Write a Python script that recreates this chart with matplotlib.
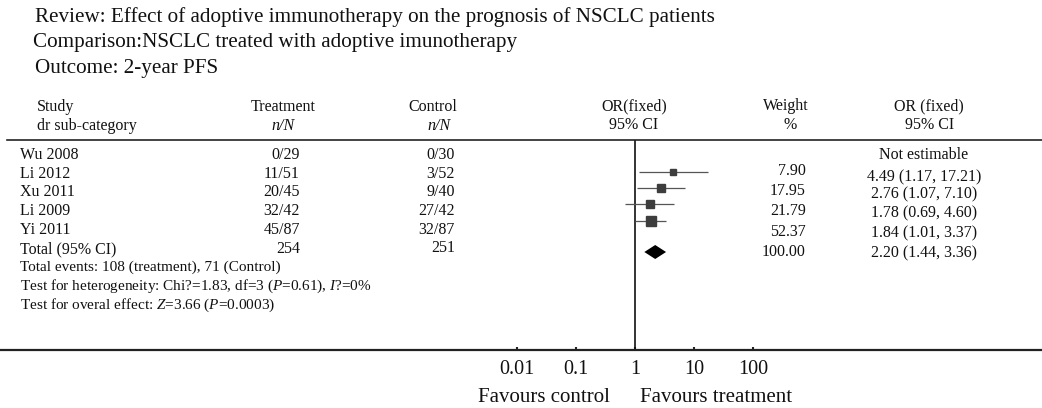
import numpy as np
import matplotlib
matplotlib.use("Agg")
import matplotlib.pyplot as plt
from matplotlib.lines import Line2D
from matplotlib.ticker import NullLocator, FixedLocator, FixedFormatter

# ---------------- data ----------------
title_lines = ["Review: Effect of adoptive immunotherapy on the prognosis of NSCLC patients",
               "Comparison:NSCLC treated with adoptive imunotherapy",
               "Outcome: 2-year PFS"]
studies = ["Wu 2008", "Li 2012", "Xu 2011", "Li 2009", "Yi 2011"]
treat_n = [0, 11, 20, 32, 45]
treat_N = [29, 51, 45, 42, 87]
ctrl_n = [0, 3, 9, 27, 32]
ctrl_N = [30, 52, 40, 42, 87]
weights = [None, 7.90, 17.95, 21.79, 52.37]
or_est = [None, 4.49, 2.76, 1.78, 1.84]
or_lo = [None, 1.17, 1.07, 0.69, 1.01]
or_hi = [None, 17.21, 7.10, 4.60, 3.37]
total_label = "Total (95% CI)"
total_treat_N = 254
total_ctrl_N = 251
total_weight = 100.00
total_est, total_lo, total_hi = 2.20, 1.44, 3.36
footer_lines = ["Total events: 108 (treatment), 71 (Control)",
                r"Test for heterogeneity: Chi?=1.83, df=3 ($P$=0.61), $I$?=0%",
                r"Test for overal effect: $Z$=3.66 ($P$=0.0003)"]
tick_values = [0.01, 0.1, 1, 10, 100]
tick_labels = ["0.01", "0.1", "1", "10", "100"]
favours_left = "Favours control"
favours_right = "Favours treatment"

# ---------------- style ----------------
plt.rcParams['font.family'] = ['Liberation Serif', 'DejaVu Serif']
plt.rcParams['mathtext.fontset'] = 'custom'
plt.rcParams['mathtext.rm'] = 'Liberation Serif'
plt.rcParams['mathtext.it'] = 'Liberation Serif:italic'

W, H = 1042, 408
fig = plt.figure(figsize=(W / 100, H / 100), dpi=100)
fig.patch.set_facecolor('white')
TXT = '#111111'


def ftxt(x, y, s, **kw):
    kw.setdefault('color', TXT)
    kw.setdefault('va', 'center')
    fig.text(x / W, 1 - y / H, s, **kw)


# titles
title_y = [17, 43, 68]
title_x = [35, 33, 35]
for s, x, y in zip(title_lines, title_x, title_y):
    ftxt(x, y, s, fontsize=15.2, ha='left')

# column headers
hs = 11.5
ftxt(37, 107, "Study", fontsize=hs, ha='left')
ftxt(37, 126, "dr sub-category", fontsize=hs, ha='left')
ftxt(283, 107, "Treatment", fontsize=hs, ha='center')
ftxt(283, 126, "n/N", fontsize=hs, ha='center', style='italic')
ftxt(433, 107, "Control", fontsize=hs, ha='center')
ftxt(439, 126, "n/N", fontsize=hs, ha='center', style='italic')
ftxt(634, 106, "OR(fixed)", fontsize=hs, ha='center')
ftxt(634, 125, "95% CI", fontsize=hs, ha='center')
ftxt(786, 106, "Weight", fontsize=hs, ha='center')
ftxt(790, 125, "%", fontsize=hs, ha='center')
ftxt(929, 106, "OR (fixed)", fontsize=hs, ha='center')
ftxt(930, 125, "95% CI", fontsize=hs, ha='center')

fig.add_artist(Line2D([7 / W, 1.0], [1 - 140 / H] * 2, color='#222222', lw=1.2))

# table rows
row_y = [155, 174, 192, 211, 230]
w_y = [None, 171, 191, 211, 232]
or_y = [155, 177, 194, 213, 233]
bs = 11.5
for i, name in enumerate(studies):
    ftxt(20, row_y[i], name, fontsize=bs, ha='left')
    ftxt(300, row_y[i], f"{treat_n[i]}/{treat_N[i]}", fontsize=bs, ha='right')
    ftxt(455, row_y[i], f"{ctrl_n[i]}/{ctrl_N[i]}", fontsize=bs, ha='right')
    if weights[i] is None:
        ftxt(924, or_y[i], "Not estimable", fontsize=bs, ha='center')
    else:
        ftxt(806, w_y[i], f"{weights[i]:.2f}", fontsize=bs, ha='right')
        ftxt(924, or_y[i], f"{or_est[i]:.2f} ({or_lo[i]:.2f}, {or_hi[i]:.2f})",
             fontsize=bs, ha='center')

# total row
ftxt(20, 249, total_label, fontsize=bs, ha='left')
ftxt(300, 249, str(total_treat_N), fontsize=bs, ha='right')
ftxt(455, 248, str(total_ctrl_N), fontsize=bs, ha='right')
ftxt(806, 252, f"{total_weight:.2f}", fontsize=bs, ha='right')
ftxt(924, 253, f"{total_est:.2f} ({total_lo:.2f}, {total_hi:.2f})", fontsize=bs, ha='center')

# footers
for s, y in zip(footer_lines, [267, 286, 305]):
    ftxt(20, y, s, fontsize=11, ha='left')

# ---------------- forest axes ----------------
x1px, dec = 635.0, 59.0  # pixel of OR=1, pixels per decade
ax = fig.add_axes([0, (H - 350) / H, 1, 210 / H])
ax.set_facecolor('none')
ax.set_xscale('log')
ax.set_xlim(10 ** ((0 - x1px) / dec), 10 ** ((W - x1px) / dec))
ax.set_ylim(350, 140)
for sp in ['top', 'left', 'right']:
    ax.spines[sp].set_visible(False)
ax.spines['bottom'].set_linewidth(1.6)
ax.spines['bottom'].set_color('#222222')
ax.yaxis.set_visible(False)
ax.xaxis.set_major_locator(FixedLocator(tick_values))
ax.xaxis.set_major_formatter(FixedFormatter(tick_labels))
ax.xaxis.set_minor_locator(NullLocator())
ax.tick_params(axis='x', direction='in', length=2.5, width=1.5, pad=7,
               labelsize=14.5, colors='#222222', labelcolor=TXT)

ax.axvline(1, color='#111111', lw=1.2)

mark_y = [None, 172, 188, 204, 221]
for i in range(len(studies)):
    if weights[i] is None:
        continue
    y = mark_y[i]
    ax.plot([or_lo[i], or_hi[i]], [y, y], color='#555555', lw=0.9, solid_capstyle='butt')
    side = 6 + 0.09 * weights[i]
    ax.plot([or_est[i]], [y], marker='s', ms=side * 0.72, color='#3d3d3d', mec='#3d3d3d')

dy = 252
ax.fill([total_lo, total_est, total_hi, total_est], [dy, dy - 7, dy, dy + 7],
        color='black', lw=0)

# favours labels
ftxt(610, 398, favours_left, fontsize=15, ha='right')
ftxt(640, 398, favours_right, fontsize=15, ha='left')

fig.savefig("out.png", dpi=100, facecolor='white')
